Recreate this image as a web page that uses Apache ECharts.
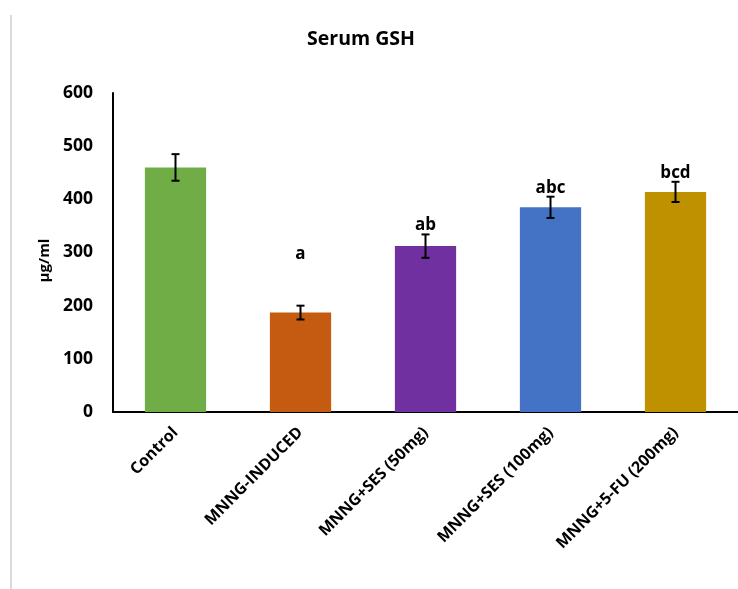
<!DOCTYPE html>
<html>
<head>
<meta charset="utf-8">
<script src="https://cdn.jsdelivr.net/npm/echarts@6/dist/echarts.min.js"></script>
<style>
  html, body { margin: 0; padding: 0; background: #fff; }
  #chart { width: 738px; height: 589px; }
</style>
</head>
<body>
<div id="chart"></div>
<script>
// Serum GSH by treatment group (mean ± error, µg/ml)
const categories = ['Control', 'MNNG-INDUCED', 'MNNG+SES (50mg)', 'MNNG+SES (100mg)', 'MNNG+5-FU (200mg)'];
const means = [460, 187, 312, 385, 414];
const errors = [25, 13, 22, 20, 19];
const letters = ['', 'a', 'ab', 'abc', 'bcd'];
const yTicks = [0, 100, 200, 300, 400, 500, 600];

const barColors = ['#70ad47', '#c55a11', '#7030a0', '#4472c4', '#bf9000'];
const FONT = '"Open Sans", "Noto Sans", sans-serif';

const chart = echarts.init(document.getElementById('chart'));

const errData = means.map((m, i) => [i, m - errors[i], m + errors[i]]);
const letterData = means.map((m, i) => [i, m + errors[i], letters[i]]);

chart.setOption({
  animation: false,
  backgroundColor: '#ffffff',
  title: {
    text: 'Serum GSH',
    left: 356,
    top: 24,
    textAlign: 'center',
    textStyle: { fontFamily: FONT, fontSize: 19.5, fontWeight: 'bold', color: '#000' }
  },
  graphic: [{
    type: 'line',
    shape: { x1: 11, y1: 15, x2: 11, y2: 589 },
    style: { stroke: '#d9d9d9', lineWidth: 2 }
  }],
  grid: { left: 113, right: 0, top: 93, bottom: 177, containLabel: false },
  xAxis: {
    type: 'category',
    data: categories,
    axisLine: { lineStyle: { color: '#000', width: 2 } },
    axisTick: { show: false },
    axisLabel: {
      rotate: 45,
      interval: 0,
      margin: 18,
      fontFamily: FONT,
      fontSize: 16,
      fontWeight: 'bold',
      color: '#000'
    }
  },
  yAxis: {
    type: 'value',
    min: yTicks[0],
    max: yTicks[yTicks.length - 1],
    interval: yTicks[1] - yTicks[0],
    name: 'µg/ml',
    nameLocation: 'middle',
    nameRotate: 90,
    nameGap: 60,
    nameTextStyle: { fontFamily: FONT, fontSize: 15, fontWeight: 'bold', color: '#000', padding: [0, 16, 0, 0] },
    axisLine: { show: true, lineStyle: { color: '#000', width: 2 } },
    axisTick: { show: false },
    splitLine: { show: false },
    axisLabel: {
      margin: 20,
      fontFamily: FONT,
      fontSize: 17.5,
      fontWeight: 'bold',
      color: '#000'
    }
  },
  series: [
    {
      type: 'bar',
      barWidth: '49%',
      data: means.map((v, i) => ({ value: v, itemStyle: { color: barColors[i] } })),
      z: 2
    },
    {
      // error bars with caps
      type: 'custom',
      z: 5,
      renderItem: function (params, api) {
        const x = api.value(0);
        const lo = api.coord([x, api.value(1)]);
        const hi = api.coord([x, api.value(2)]);
        const half = 4;
        const style = { stroke: '#000', lineWidth: 2 };
        return {
          type: 'group',
          children: [
            { type: 'line', shape: { x1: lo[0], y1: lo[1], x2: hi[0], y2: hi[1] }, style: style },
            { type: 'line', shape: { x1: hi[0] - half, y1: hi[1], x2: hi[0] + half, y2: hi[1] }, style: style },
            { type: 'line', shape: { x1: lo[0] - half, y1: lo[1], x2: lo[0] + half, y2: lo[1] }, style: style }
          ]
        };
      },
      data: errData
    },
    {
      // significance letters above the error bars
      type: 'custom',
      z: 6,
      renderItem: function (params, api) {
        const i = api.value(0);
        const p = api.coord([i, api.value(1)]);
        const lift = params.dataIndex === 1 ? 52 : 9;
        return {
          type: 'text',
          style: {
            text: letters[params.dataIndex],
            x: p[0],
            y: p[1] - lift,
            align: 'center',
            verticalAlign: 'middle',
            fontFamily: FONT,
            fontSize: 17,
            fontWeight: 'bold',
            fill: '#000'
          }
        };
      },
      data: letterData
    }
  ]
});
</script>
</body>
</html>
